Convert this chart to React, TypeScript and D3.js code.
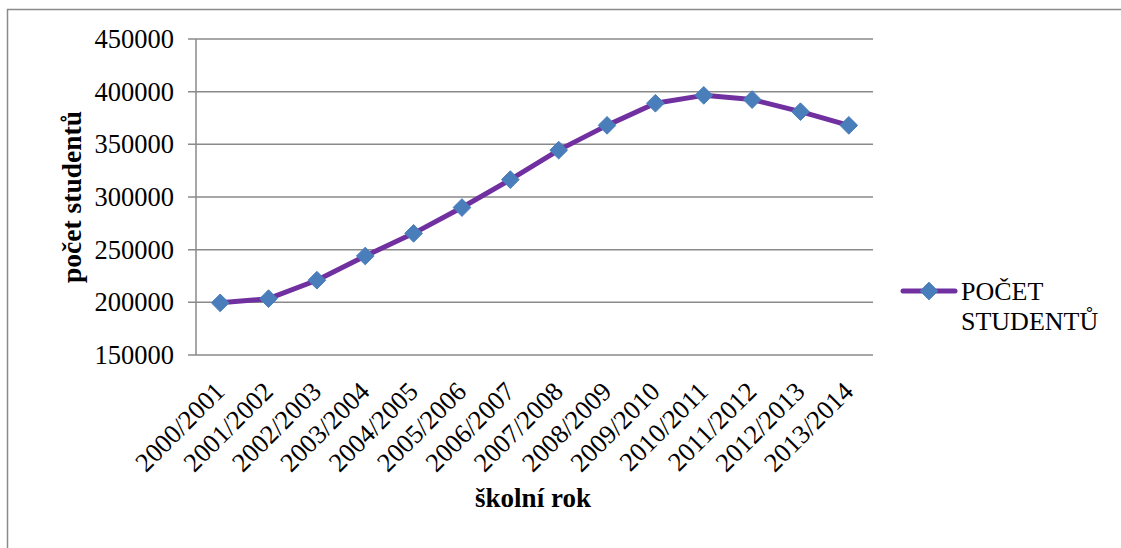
import React, { useEffect, useRef } from "react";
import * as d3 from "d3";

const categories = [
  "2000/2001", "2001/2002", "2002/2003", "2003/2004", "2004/2005", "2005/2006", "2006/2007",
  "2007/2008", "2008/2009", "2009/2010", "2010/2011", "2011/2012", "2012/2013", "2013/2014",
];
const values = [
  199500, 203500, 221000, 244000, 265500, 290000, 316500,
  344500, 368000, 389000, 396500, 392500, 381000, 368000,
];
const yTicks = [150000, 200000, 250000, 300000, 350000, 400000, 450000];
const seriesName = ["POČET", "STUDENTŮ"];
const xTitle = "školní rok";
const yTitle = "počet studentů";

const W = 1121;
const H = 548;
const FONT = "'Liberation Serif', 'Times New Roman', serif";

export default function App() {
  const ref = useRef<SVGSVGElement | null>(null);

  useEffect(() => {
    const svg = d3.select(ref.current);
    svg.selectAll("*").remove();

    const left = 196, right = 873, top = 39, bottom = 355;
    const x = d3.scaleBand<string>().domain(categories).range([left, right]);
    const y = d3.scaleLinear().domain([150000, 450000]).range([bottom, top]);
    const grid = "#8a8a8a";

    svg.append("rect").attr("width", W).attr("height", H).attr("fill", "#fff");
    svg.append("path")
      .attr("d", `M7.5,${H + 5}V9.5H${W + 5}`)
      .attr("fill", "none").attr("stroke", grid).attr("stroke-width", 1.5);

    svg.append("g").selectAll("line").data(yTicks).join("line")
      .attr("x1", left - 8).attr("x2", right)
      .attr("y1", (d) => y(d)).attr("y2", (d) => y(d))
      .attr("stroke", grid).attr("stroke-width", 1.5);
    svg.append("line").attr("x1", left).attr("x2", left).attr("y1", top).attr("y2", bottom)
      .attr("stroke", grid).attr("stroke-width", 1.5);

    svg.append("g").selectAll("text").data(yTicks).join("text")
      .attr("x", 174).attr("y", (d) => y(d) + 9)
      .attr("text-anchor", "end").attr("font-family", FONT).attr("font-size", 26.5)
      .attr("fill", "#000").text((d) => String(d));

    svg.append("g").selectAll("text").data(categories).join("text")
      .attr("transform", (d) => `translate(${(x(d) as number) + x.bandwidth() / 2 + 6},393) rotate(-45)`)
      .attr("text-anchor", "end").attr("font-family", FONT).attr("font-size", 26.5)
      .attr("fill", "#000").text((d) => d);

    const cx = (d: string) => (x(d) as number) + x.bandwidth() / 2;
    const line = d3.line<number>().x((_, i) => cx(categories[i])).y((d) => y(d));
    svg.append("path").datum(values).attr("d", line)
      .attr("fill", "none").attr("stroke", "#7030A0").attr("stroke-width", 5)
      .attr("stroke-linejoin", "round").attr("stroke-linecap", "round");

    const diamond = d3.symbol().type(d3.symbolDiamond2).size(200);
    svg.append("g").selectAll("path").data(values).join("path")
      .attr("d", diamond)
      .attr("transform", (d, i) => `translate(${cx(categories[i])},${y(d)})`)
      .attr("fill", "#4A7EBB").attr("stroke", "#4A7EBB").attr("stroke-width", 1);

    svg.append("text").attr("x", 533).attr("y", 507).attr("text-anchor", "middle")
      .attr("font-family", FONT).attr("font-size", 27).attr("font-weight", "bold").text(xTitle);
    svg.append("text").attr("transform", `translate(81,${(top + bottom) / 2}) rotate(-90)`)
      .attr("text-anchor", "middle")
      .attr("font-family", FONT).attr("font-size", 27.5).attr("font-weight", "bold").text(yTitle);

    const ly = 291;
    svg.append("line").attr("x1", 903).attr("x2", 955).attr("y1", ly).attr("y2", ly)
      .attr("stroke", "#7030A0").attr("stroke-width", 5).attr("stroke-linecap", "round");
    svg.append("path").attr("d", diamond).attr("transform", `translate(929,${ly})`)
      .attr("fill", "#4A7EBB").attr("stroke", "#4A7EBB").attr("stroke-width", 1);
    svg.append("g").selectAll("text").data(seriesName).join("text")
      .attr("x", 961).attr("y", (_, i) => 300 + i * 30)
      .attr("font-family", FONT).attr("font-size", 26).attr("fill", "#000").text((d) => d);
  }, []);

  return (
    <div style={{ position: "absolute", left: 0, top: 0 }}>
      <svg ref={ref} width={W} height={H} style={{ display: "block" }} />
    </div>
  );
}
